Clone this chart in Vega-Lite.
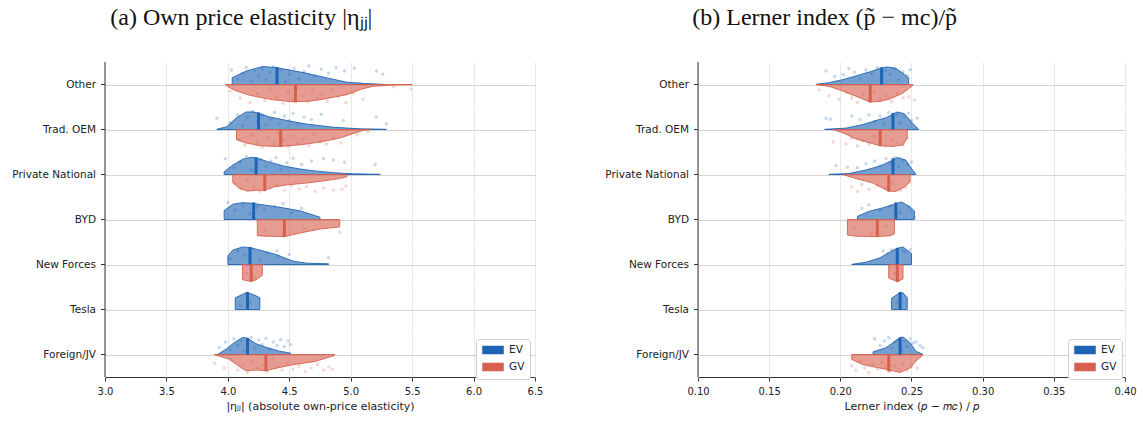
{
 "$schema": "https://vega.github.io/schema/vega-lite/v6.json",
 "background": "white",
 "padding": {"left": 12, "right": 3, "top": 5, "bottom": 5},
 "spacing": 62,
 "config": {"view": {"stroke": null}, "font": "DejaVu Sans"},
 "resolve": {"scale": {"fill": "independent", "stroke": "independent"}, "legend": {"fill": "independent", "stroke": "independent"}},
 "datasets": {
  "a": [
   {"cat":"Other","grp":"EV","kind":"v","val":4.035,"dens":0.15},{"cat":"Other","grp":"EV","kind":"v","val":4.15,"dens":0.30},{"cat":"Other","grp":"EV","kind":"v","val":4.285,"dens":0.40},{"cat":"Other","grp":"EV","kind":"v","val":4.393,"dens":0.375},{"cat":"Other","grp":"EV","kind":"v","val":4.506,"dens":0.32},{"cat":"Other","grp":"EV","kind":"v","val":4.64,"dens":0.25},{"cat":"Other","grp":"EV","kind":"v","val":4.80,"dens":0.15},{"cat":"Other","grp":"EV","kind":"v","val":4.97,"dens":0.05},{"cat":"Other","grp":"EV","kind":"v","val":5.13,"dens":0.02},{"cat":"Other","grp":"EV","kind":"v","val":5.26,"dens":0.004},
   {"cat":"Other","grp":"GV","kind":"v","val":3.98,"dens":-0.005},{"cat":"Other","grp":"GV","kind":"v","val":4.04,"dens":-0.11},{"cat":"Other","grp":"GV","kind":"v","val":4.10,"dens":-0.17},{"cat":"Other","grp":"GV","kind":"v","val":4.18,"dens":-0.24},{"cat":"Other","grp":"GV","kind":"v","val":4.27,"dens":-0.29},{"cat":"Other","grp":"GV","kind":"v","val":4.37,"dens":-0.34},{"cat":"Other","grp":"GV","kind":"v","val":4.51,"dens":-0.38},{"cat":"Other","grp":"GV","kind":"v","val":4.64,"dens":-0.375},{"cat":"Other","grp":"GV","kind":"v","val":4.72,"dens":-0.35},{"cat":"Other","grp":"GV","kind":"v","val":4.80,"dens":-0.315},{"cat":"Other","grp":"GV","kind":"v","val":4.88,"dens":-0.27},{"cat":"Other","grp":"GV","kind":"v","val":4.97,"dens":-0.225},{"cat":"Other","grp":"GV","kind":"v","val":5.08,"dens":-0.11},{"cat":"Other","grp":"GV","kind":"v","val":5.18,"dens":-0.04},{"cat":"Other","grp":"GV","kind":"v","val":5.35,"dens":-0.01},{"cat":"Other","grp":"GV","kind":"v","val":5.50,"dens":-0.004},
   {"cat":"Trad. OEM","grp":"EV","kind":"v","val":3.91,"dens":0.004},{"cat":"Trad. OEM","grp":"EV","kind":"v","val":3.99,"dens":0.06},{"cat":"Trad. OEM","grp":"EV","kind":"v","val":4.07,"dens":0.26},{"cat":"Trad. OEM","grp":"EV","kind":"v","val":4.15,"dens":0.39},{"cat":"Trad. OEM","grp":"EV","kind":"v","val":4.21,"dens":0.39},{"cat":"Trad. OEM","grp":"EV","kind":"v","val":4.25,"dens":0.36},{"cat":"Trad. OEM","grp":"EV","kind":"v","val":4.34,"dens":0.28},{"cat":"Trad. OEM","grp":"EV","kind":"v","val":4.48,"dens":0.20},{"cat":"Trad. OEM","grp":"EV","kind":"v","val":4.64,"dens":0.12},{"cat":"Trad. OEM","grp":"EV","kind":"v","val":4.86,"dens":0.05},{"cat":"Trad. OEM","grp":"EV","kind":"v","val":5.08,"dens":0.015},{"cat":"Trad. OEM","grp":"EV","kind":"v","val":5.29,"dens":0.004},
   {"cat":"Trad. OEM","grp":"GV","kind":"v","val":4.07,"dens":-0.225},{"cat":"Trad. OEM","grp":"GV","kind":"v","val":4.15,"dens":-0.30},{"cat":"Trad. OEM","grp":"GV","kind":"v","val":4.26,"dens":-0.36},{"cat":"Trad. OEM","grp":"GV","kind":"v","val":4.37,"dens":-0.375},{"cat":"Trad. OEM","grp":"GV","kind":"v","val":4.43,"dens":-0.375},{"cat":"Trad. OEM","grp":"GV","kind":"v","val":4.59,"dens":-0.34},{"cat":"Trad. OEM","grp":"GV","kind":"v","val":4.75,"dens":-0.28},{"cat":"Trad. OEM","grp":"GV","kind":"v","val":4.91,"dens":-0.19},{"cat":"Trad. OEM","grp":"GV","kind":"v","val":5.02,"dens":-0.09},{"cat":"Trad. OEM","grp":"GV","kind":"v","val":5.10,"dens":-0.02},{"cat":"Trad. OEM","grp":"GV","kind":"v","val":5.16,"dens":-0.004},
   {"cat":"Private National","grp":"EV","kind":"v","val":3.97,"dens":0.06},{"cat":"Private National","grp":"EV","kind":"v","val":4.04,"dens":0.21},{"cat":"Private National","grp":"EV","kind":"v","val":4.12,"dens":0.34},{"cat":"Private National","grp":"EV","kind":"v","val":4.19,"dens":0.38},{"cat":"Private National","grp":"EV","kind":"v","val":4.23,"dens":0.37},{"cat":"Private National","grp":"EV","kind":"v","val":4.32,"dens":0.29},{"cat":"Private National","grp":"EV","kind":"v","val":4.45,"dens":0.19},{"cat":"Private National","grp":"EV","kind":"v","val":4.59,"dens":0.12},{"cat":"Private National","grp":"EV","kind":"v","val":4.72,"dens":0.075},{"cat":"Private National","grp":"EV","kind":"v","val":4.86,"dens":0.04},{"cat":"Private National","grp":"EV","kind":"v","val":5.02,"dens":0.015},{"cat":"Private National","grp":"EV","kind":"v","val":5.24,"dens":0.004},
   {"cat":"Private National","grp":"GV","kind":"v","val":4.04,"dens":-0.18},{"cat":"Private National","grp":"GV","kind":"v","val":4.09,"dens":-0.30},{"cat":"Private National","grp":"GV","kind":"v","val":4.16,"dens":-0.37},{"cat":"Private National","grp":"GV","kind":"v","val":4.23,"dens":-0.35},{"cat":"Private National","grp":"GV","kind":"v","val":4.30,"dens":-0.35},{"cat":"Private National","grp":"GV","kind":"v","val":4.37,"dens":-0.28},{"cat":"Private National","grp":"GV","kind":"v","val":4.48,"dens":-0.23},{"cat":"Private National","grp":"GV","kind":"v","val":4.64,"dens":-0.19},{"cat":"Private National","grp":"GV","kind":"v","val":4.80,"dens":-0.135},{"cat":"Private National","grp":"GV","kind":"v","val":4.91,"dens":-0.09},{"cat":"Private National","grp":"GV","kind":"v","val":4.97,"dens":-0.05},
   {"cat":"BYD","grp":"EV","kind":"v","val":3.97,"dens":0.20},{"cat":"BYD","grp":"EV","kind":"v","val":4.04,"dens":0.34},{"cat":"BYD","grp":"EV","kind":"v","val":4.12,"dens":0.375},{"cat":"BYD","grp":"EV","kind":"v","val":4.20,"dens":0.36},{"cat":"BYD","grp":"EV","kind":"v","val":4.31,"dens":0.315},{"cat":"BYD","grp":"EV","kind":"v","val":4.45,"dens":0.26},{"cat":"BYD","grp":"EV","kind":"v","val":4.59,"dens":0.19},{"cat":"BYD","grp":"EV","kind":"v","val":4.75,"dens":0.05},
   {"cat":"BYD","grp":"GV","kind":"v","val":4.24,"dens":-0.36},{"cat":"BYD","grp":"GV","kind":"v","val":4.31,"dens":-0.37},{"cat":"BYD","grp":"GV","kind":"v","val":4.46,"dens":-0.38},{"cat":"BYD","grp":"GV","kind":"v","val":4.59,"dens":-0.30},{"cat":"BYD","grp":"GV","kind":"v","val":4.75,"dens":-0.21},{"cat":"BYD","grp":"GV","kind":"v","val":4.91,"dens":-0.165},
   {"cat":"New Forces","grp":"EV","kind":"v","val":4.00,"dens":0.19},{"cat":"New Forces","grp":"EV","kind":"v","val":4.04,"dens":0.32},{"cat":"New Forces","grp":"EV","kind":"v","val":4.12,"dens":0.39},{"cat":"New Forces","grp":"EV","kind":"v","val":4.18,"dens":0.375},{"cat":"New Forces","grp":"EV","kind":"v","val":4.29,"dens":0.30},{"cat":"New Forces","grp":"EV","kind":"v","val":4.39,"dens":0.225},{"cat":"New Forces","grp":"EV","kind":"v","val":4.53,"dens":0.075},{"cat":"New Forces","grp":"EV","kind":"v","val":4.64,"dens":0.03},{"cat":"New Forces","grp":"EV","kind":"v","val":4.82,"dens":0.015},
   {"cat":"New Forces","grp":"GV","kind":"v","val":4.12,"dens":-0.34},{"cat":"New Forces","grp":"GV","kind":"v","val":4.19,"dens":-0.375},{"cat":"New Forces","grp":"GV","kind":"v","val":4.23,"dens":-0.34},{"cat":"New Forces","grp":"GV","kind":"v","val":4.28,"dens":-0.24},
   {"cat":"Tesla","grp":"EV","kind":"v","val":4.06,"dens":0.26},{"cat":"Tesla","grp":"EV","kind":"v","val":4.15,"dens":0.375},{"cat":"Tesla","grp":"EV","kind":"v","val":4.21,"dens":0.33},{"cat":"Tesla","grp":"EV","kind":"v","val":4.26,"dens":0.26},
   {"cat":"Foreign/JV","grp":"EV","kind":"v","val":3.92,"dens":0.004},{"cat":"Foreign/JV","grp":"EV","kind":"v","val":3.99,"dens":0.13},{"cat":"Foreign/JV","grp":"EV","kind":"v","val":4.04,"dens":0.24},{"cat":"Foreign/JV","grp":"EV","kind":"v","val":4.12,"dens":0.38},{"cat":"Foreign/JV","grp":"EV","kind":"v","val":4.16,"dens":0.36},{"cat":"Foreign/JV","grp":"EV","kind":"v","val":4.23,"dens":0.24},{"cat":"Foreign/JV","grp":"EV","kind":"v","val":4.31,"dens":0.16},{"cat":"Foreign/JV","grp":"EV","kind":"v","val":4.42,"dens":0.075},{"cat":"Foreign/JV","grp":"EV","kind":"v","val":4.51,"dens":0.03},
   {"cat":"Foreign/JV","grp":"GV","kind":"v","val":3.89,"dens":-0.004},{"cat":"Foreign/JV","grp":"GV","kind":"v","val":4.01,"dens":-0.10},{"cat":"Foreign/JV","grp":"GV","kind":"v","val":4.10,"dens":-0.285},{"cat":"Foreign/JV","grp":"GV","kind":"v","val":4.15,"dens":-0.36},{"cat":"Foreign/JV","grp":"GV","kind":"v","val":4.23,"dens":-0.345},{"cat":"Foreign/JV","grp":"GV","kind":"v","val":4.31,"dens":-0.36},{"cat":"Foreign/JV","grp":"GV","kind":"v","val":4.40,"dens":-0.30},{"cat":"Foreign/JV","grp":"GV","kind":"v","val":4.53,"dens":-0.225},{"cat":"Foreign/JV","grp":"GV","kind":"v","val":4.70,"dens":-0.16},{"cat":"Foreign/JV","grp":"GV","kind":"v","val":4.80,"dens":-0.08},{"cat":"Foreign/JV","grp":"GV","kind":"v","val":4.87,"dens":-0.02},

   {"cat":"Other","grp":"EV","kind":"m","val":4.40,"dens":0.39},{"cat":"Other","grp":"GV","kind":"m","val":4.55,"dens":-0.40},
   {"cat":"Trad. OEM","grp":"EV","kind":"m","val":4.25,"dens":0.38},{"cat":"Trad. OEM","grp":"GV","kind":"m","val":4.43,"dens":-0.385},
   {"cat":"Private National","grp":"EV","kind":"m","val":4.23,"dens":0.38},{"cat":"Private National","grp":"GV","kind":"m","val":4.30,"dens":-0.37},
   {"cat":"BYD","grp":"EV","kind":"m","val":4.21,"dens":0.38},{"cat":"BYD","grp":"GV","kind":"m","val":4.46,"dens":-0.39},
   {"cat":"New Forces","grp":"EV","kind":"m","val":4.18,"dens":0.39},{"cat":"New Forces","grp":"GV","kind":"m","val":4.19,"dens":-0.38},
   {"cat":"Tesla","grp":"EV","kind":"m","val":4.16,"dens":0.39},
   {"cat":"Foreign/JV","grp":"EV","kind":"m","val":4.16,"dens":0.37},{"cat":"Foreign/JV","grp":"GV","kind":"m","val":4.31,"dens":-0.37},

   {"cat":"Other","grp":"EV","kind":"p","val":4.03,"dens":0.32},{"cat":"Other","grp":"EV","kind":"p","val":4.08,"dens":0.12},{"cat":"Other","grp":"EV","kind":"p","val":4.12,"dens":0.25},{"cat":"Other","grp":"EV","kind":"p","val":4.15,"dens":0.38},{"cat":"Other","grp":"EV","kind":"p","val":4.19,"dens":0.08},{"cat":"Other","grp":"EV","kind":"p","val":4.22,"dens":0.30},{"cat":"Other","grp":"EV","kind":"p","val":4.25,"dens":0.18},{"cat":"Other","grp":"EV","kind":"p","val":4.28,"dens":0.35},{"cat":"Other","grp":"EV","kind":"p","val":4.31,"dens":0.10},{"cat":"Other","grp":"EV","kind":"p","val":4.34,"dens":0.27},{"cat":"Other","grp":"EV","kind":"p","val":4.37,"dens":0.40},{"cat":"Other","grp":"EV","kind":"p","val":4.40,"dens":0.15},{"cat":"Other","grp":"EV","kind":"p","val":4.43,"dens":0.33},{"cat":"Other","grp":"EV","kind":"p","val":4.47,"dens":0.06},{"cat":"Other","grp":"EV","kind":"p","val":4.50,"dens":0.22},{"cat":"Other","grp":"EV","kind":"p","val":4.54,"dens":0.36},{"cat":"Other","grp":"EV","kind":"p","val":4.58,"dens":0.13},{"cat":"Other","grp":"EV","kind":"p","val":4.62,"dens":0.29},{"cat":"Other","grp":"EV","kind":"p","val":4.66,"dens":0.41},{"cat":"Other","grp":"EV","kind":"p","val":4.71,"dens":0.19},{"cat":"Other","grp":"EV","kind":"p","val":4.76,"dens":0.34},{"cat":"Other","grp":"EV","kind":"p","val":4.82,"dens":0.25},{"cat":"Other","grp":"EV","kind":"p","val":4.88,"dens":0.38},{"cat":"Other","grp":"EV","kind":"p","val":4.95,"dens":0.30},{"cat":"Other","grp":"EV","kind":"p","val":5.03,"dens":0.36},{"cat":"Other","grp":"EV","kind":"p","val":5.21,"dens":0.30},{"cat":"Other","grp":"EV","kind":"p","val":5.26,"dens":0.23},
   {"cat":"Other","grp":"GV","kind":"p","val":4.02,"dens":-0.15},{"cat":"Other","grp":"GV","kind":"p","val":4.10,"dens":-0.30},{"cat":"Other","grp":"GV","kind":"p","val":4.18,"dens":-0.40},{"cat":"Other","grp":"GV","kind":"p","val":4.24,"dens":-0.20},{"cat":"Other","grp":"GV","kind":"p","val":4.30,"dens":-0.35},{"cat":"Other","grp":"GV","kind":"p","val":4.35,"dens":-0.10},{"cat":"Other","grp":"GV","kind":"p","val":4.40,"dens":-0.28},{"cat":"Other","grp":"GV","kind":"p","val":4.45,"dens":-0.42},{"cat":"Other","grp":"GV","kind":"p","val":4.49,"dens":-0.17},{"cat":"Other","grp":"GV","kind":"p","val":4.53,"dens":-0.33},{"cat":"Other","grp":"GV","kind":"p","val":4.57,"dens":-0.08},{"cat":"Other","grp":"GV","kind":"p","val":4.61,"dens":-0.25},{"cat":"Other","grp":"GV","kind":"p","val":4.65,"dens":-0.39},{"cat":"Other","grp":"GV","kind":"p","val":4.69,"dens":-0.14},{"cat":"Other","grp":"GV","kind":"p","val":4.73,"dens":-0.31},{"cat":"Other","grp":"GV","kind":"p","val":4.77,"dens":-0.22},{"cat":"Other","grp":"GV","kind":"p","val":4.81,"dens":-0.37},{"cat":"Other","grp":"GV","kind":"p","val":4.85,"dens":-0.12},{"cat":"Other","grp":"GV","kind":"p","val":4.90,"dens":-0.27},{"cat":"Other","grp":"GV","kind":"p","val":4.96,"dens":-0.40},{"cat":"Other","grp":"GV","kind":"p","val":5.02,"dens":-0.20},{"cat":"Other","grp":"GV","kind":"p","val":5.10,"dens":-0.33},{"cat":"Other","grp":"GV","kind":"p","val":5.35,"dens":-0.05},{"cat":"Other","grp":"GV","kind":"p","val":5.49,"dens":-0.10},
   {"cat":"Trad. OEM","grp":"EV","kind":"p","val":3.91,"dens":0.25},{"cat":"Trad. OEM","grp":"EV","kind":"p","val":4.02,"dens":0.15},{"cat":"Trad. OEM","grp":"EV","kind":"p","val":4.08,"dens":0.33},{"cat":"Trad. OEM","grp":"EV","kind":"p","val":4.12,"dens":0.08},{"cat":"Trad. OEM","grp":"EV","kind":"p","val":4.16,"dens":0.28},{"cat":"Trad. OEM","grp":"EV","kind":"p","val":4.20,"dens":0.40},{"cat":"Trad. OEM","grp":"EV","kind":"p","val":4.24,"dens":0.18},{"cat":"Trad. OEM","grp":"EV","kind":"p","val":4.28,"dens":0.32},{"cat":"Trad. OEM","grp":"EV","kind":"p","val":4.31,"dens":0.10},{"cat":"Trad. OEM","grp":"EV","kind":"p","val":4.35,"dens":0.24},{"cat":"Trad. OEM","grp":"EV","kind":"p","val":4.38,"dens":0.38},{"cat":"Trad. OEM","grp":"EV","kind":"p","val":4.42,"dens":0.14},{"cat":"Trad. OEM","grp":"EV","kind":"p","val":4.46,"dens":0.30},{"cat":"Trad. OEM","grp":"EV","kind":"p","val":4.50,"dens":0.20},{"cat":"Trad. OEM","grp":"EV","kind":"p","val":4.53,"dens":0.36},{"cat":"Trad. OEM","grp":"EV","kind":"p","val":4.57,"dens":0.11},{"cat":"Trad. OEM","grp":"EV","kind":"p","val":4.62,"dens":0.27},{"cat":"Trad. OEM","grp":"EV","kind":"p","val":4.68,"dens":0.22},{"cat":"Trad. OEM","grp":"EV","kind":"p","val":4.76,"dens":0.34},{"cat":"Trad. OEM","grp":"EV","kind":"p","val":4.94,"dens":0.20},{"cat":"Trad. OEM","grp":"EV","kind":"p","val":5.21,"dens":0.28},{"cat":"Trad. OEM","grp":"EV","kind":"p","val":5.29,"dens":0.13},
   {"cat":"Trad. OEM","grp":"GV","kind":"p","val":4.09,"dens":-0.22},{"cat":"Trad. OEM","grp":"GV","kind":"p","val":4.14,"dens":-0.35},{"cat":"Trad. OEM","grp":"GV","kind":"p","val":4.19,"dens":-0.12},{"cat":"Trad. OEM","grp":"GV","kind":"p","val":4.24,"dens":-0.29},{"cat":"Trad. OEM","grp":"GV","kind":"p","val":4.28,"dens":-0.40},{"cat":"Trad. OEM","grp":"GV","kind":"p","val":4.33,"dens":-0.18},{"cat":"Trad. OEM","grp":"GV","kind":"p","val":4.37,"dens":-0.33},{"cat":"Trad. OEM","grp":"GV","kind":"p","val":4.41,"dens":-0.08},{"cat":"Trad. OEM","grp":"GV","kind":"p","val":4.45,"dens":-0.25},{"cat":"Trad. OEM","grp":"GV","kind":"p","val":4.49,"dens":-0.38},{"cat":"Trad. OEM","grp":"GV","kind":"p","val":4.53,"dens":-0.15},{"cat":"Trad. OEM","grp":"GV","kind":"p","val":4.57,"dens":-0.30},{"cat":"Trad. OEM","grp":"GV","kind":"p","val":4.61,"dens":-0.21},{"cat":"Trad. OEM","grp":"GV","kind":"p","val":4.66,"dens":-0.36},{"cat":"Trad. OEM","grp":"GV","kind":"p","val":4.70,"dens":-0.11},{"cat":"Trad. OEM","grp":"GV","kind":"p","val":4.75,"dens":-0.27},{"cat":"Trad. OEM","grp":"GV","kind":"p","val":4.80,"dens":-0.33},{"cat":"Trad. OEM","grp":"GV","kind":"p","val":4.86,"dens":-0.19},{"cat":"Trad. OEM","grp":"GV","kind":"p","val":4.92,"dens":-0.30},{"cat":"Trad. OEM","grp":"GV","kind":"p","val":5.05,"dens":-0.12},{"cat":"Trad. OEM","grp":"GV","kind":"p","val":5.14,"dens":-0.05},
   {"cat":"Private National","grp":"EV","kind":"p","val":3.98,"dens":0.35},{"cat":"Private National","grp":"EV","kind":"p","val":4.05,"dens":0.15},{"cat":"Private National","grp":"EV","kind":"p","val":4.10,"dens":0.28},{"cat":"Private National","grp":"EV","kind":"p","val":4.15,"dens":0.40},{"cat":"Private National","grp":"EV","kind":"p","val":4.19,"dens":0.10},{"cat":"Private National","grp":"EV","kind":"p","val":4.23,"dens":0.24},{"cat":"Private National","grp":"EV","kind":"p","val":4.27,"dens":0.34},{"cat":"Private National","grp":"EV","kind":"p","val":4.31,"dens":0.18},{"cat":"Private National","grp":"EV","kind":"p","val":4.35,"dens":0.30},{"cat":"Private National","grp":"EV","kind":"p","val":4.39,"dens":0.38},{"cat":"Private National","grp":"EV","kind":"p","val":4.43,"dens":0.12},{"cat":"Private National","grp":"EV","kind":"p","val":4.48,"dens":0.26},{"cat":"Private National","grp":"EV","kind":"p","val":4.53,"dens":0.36},{"cat":"Private National","grp":"EV","kind":"p","val":4.60,"dens":0.22},{"cat":"Private National","grp":"EV","kind":"p","val":4.68,"dens":0.30},{"cat":"Private National","grp":"EV","kind":"p","val":4.78,"dens":0.35},{"cat":"Private National","grp":"EV","kind":"p","val":4.86,"dens":0.32},{"cat":"Private National","grp":"EV","kind":"p","val":4.95,"dens":0.27},{"cat":"Private National","grp":"EV","kind":"p","val":5.20,"dens":0.22},
   {"cat":"Private National","grp":"GV","kind":"p","val":4.06,"dens":-0.20},{"cat":"Private National","grp":"GV","kind":"p","val":4.11,"dens":-0.33},{"cat":"Private National","grp":"GV","kind":"p","val":4.16,"dens":-0.12},{"cat":"Private National","grp":"GV","kind":"p","val":4.21,"dens":-0.28},{"cat":"Private National","grp":"GV","kind":"p","val":4.26,"dens":-0.38},{"cat":"Private National","grp":"GV","kind":"p","val":4.30,"dens":-0.16},{"cat":"Private National","grp":"GV","kind":"p","val":4.35,"dens":-0.30},{"cat":"Private National","grp":"GV","kind":"p","val":4.40,"dens":-0.22},{"cat":"Private National","grp":"GV","kind":"p","val":4.46,"dens":-0.35},{"cat":"Private National","grp":"GV","kind":"p","val":4.52,"dens":-0.25},{"cat":"Private National","grp":"GV","kind":"p","val":4.58,"dens":-0.32},{"cat":"Private National","grp":"GV","kind":"p","val":4.64,"dens":-0.27},{"cat":"Private National","grp":"GV","kind":"p","val":4.71,"dens":-0.38},{"cat":"Private National","grp":"GV","kind":"p","val":4.78,"dens":-0.30},{"cat":"Private National","grp":"GV","kind":"p","val":4.86,"dens":-0.35},{"cat":"Private National","grp":"GV","kind":"p","val":4.93,"dens":-0.33},{"cat":"Private National","grp":"GV","kind":"p","val":4.96,"dens":-0.25},
   {"cat":"BYD","grp":"EV","kind":"p","val":4.00,"dens":0.38},{"cat":"BYD","grp":"EV","kind":"p","val":4.06,"dens":0.20},{"cat":"BYD","grp":"EV","kind":"p","val":4.12,"dens":0.32},{"cat":"BYD","grp":"EV","kind":"p","val":4.18,"dens":0.12},{"cat":"BYD","grp":"EV","kind":"p","val":4.24,"dens":0.28},{"cat":"BYD","grp":"EV","kind":"p","val":4.30,"dens":0.22},{"cat":"BYD","grp":"EV","kind":"p","val":4.38,"dens":0.30},{"cat":"BYD","grp":"EV","kind":"p","val":4.45,"dens":0.35},{"cat":"BYD","grp":"EV","kind":"p","val":4.52,"dens":0.15},{"cat":"BYD","grp":"EV","kind":"p","val":4.60,"dens":0.25},
   {"cat":"BYD","grp":"GV","kind":"p","val":4.30,"dens":-0.25},{"cat":"BYD","grp":"GV","kind":"p","val":4.45,"dens":-0.30},{"cat":"BYD","grp":"GV","kind":"p","val":4.62,"dens":-0.20},{"cat":"BYD","grp":"GV","kind":"p","val":4.91,"dens":-0.28},
   {"cat":"New Forces","grp":"EV","kind":"p","val":4.02,"dens":0.12},{"cat":"New Forces","grp":"EV","kind":"p","val":4.08,"dens":0.30},{"cat":"New Forces","grp":"EV","kind":"p","val":4.14,"dens":0.20},{"cat":"New Forces","grp":"EV","kind":"p","val":4.20,"dens":0.35},{"cat":"New Forces","grp":"EV","kind":"p","val":4.26,"dens":0.10},{"cat":"New Forces","grp":"EV","kind":"p","val":4.32,"dens":0.25},{"cat":"New Forces","grp":"EV","kind":"p","val":4.40,"dens":0.30},{"cat":"New Forces","grp":"EV","kind":"p","val":4.41,"dens":0.18},{"cat":"New Forces","grp":"EV","kind":"p","val":4.50,"dens":0.22},{"cat":"New Forces","grp":"EV","kind":"p","val":4.82,"dens":0.15},
   {"cat":"New Forces","grp":"GV","kind":"p","val":4.15,"dens":-0.20},{"cat":"New Forces","grp":"GV","kind":"p","val":4.22,"dens":-0.30},
   {"cat":"Tesla","grp":"EV","kind":"p","val":4.10,"dens":0.10},{"cat":"Tesla","grp":"EV","kind":"p","val":4.18,"dens":0.15},
   {"cat":"Foreign/JV","grp":"EV","kind":"p","val":3.93,"dens":0.15},{"cat":"Foreign/JV","grp":"EV","kind":"p","val":3.98,"dens":0.28},{"cat":"Foreign/JV","grp":"EV","kind":"p","val":4.02,"dens":0.10},{"cat":"Foreign/JV","grp":"EV","kind":"p","val":4.05,"dens":0.35},{"cat":"Foreign/JV","grp":"EV","kind":"p","val":4.08,"dens":0.20},{"cat":"Foreign/JV","grp":"EV","kind":"p","val":4.11,"dens":0.30},{"cat":"Foreign/JV","grp":"EV","kind":"p","val":4.13,"dens":0.08},{"cat":"Foreign/JV","grp":"EV","kind":"p","val":4.16,"dens":0.25},{"cat":"Foreign/JV","grp":"EV","kind":"p","val":4.19,"dens":0.38},{"cat":"Foreign/JV","grp":"EV","kind":"p","val":4.22,"dens":0.14},{"cat":"Foreign/JV","grp":"EV","kind":"p","val":4.25,"dens":0.32},{"cat":"Foreign/JV","grp":"EV","kind":"p","val":4.28,"dens":0.22},{"cat":"Foreign/JV","grp":"EV","kind":"p","val":4.31,"dens":0.36},{"cat":"Foreign/JV","grp":"EV","kind":"p","val":4.34,"dens":0.12},{"cat":"Foreign/JV","grp":"EV","kind":"p","val":4.37,"dens":0.28},{"cat":"Foreign/JV","grp":"EV","kind":"p","val":4.40,"dens":0.20},{"cat":"Foreign/JV","grp":"EV","kind":"p","val":4.43,"dens":0.33},{"cat":"Foreign/JV","grp":"EV","kind":"p","val":4.46,"dens":0.17},{"cat":"Foreign/JV","grp":"EV","kind":"p","val":4.49,"dens":0.30},{"cat":"Foreign/JV","grp":"EV","kind":"p","val":4.51,"dens":0.22},
   {"cat":"Foreign/JV","grp":"GV","kind":"p","val":3.89,"dens":-0.20},{"cat":"Foreign/JV","grp":"GV","kind":"p","val":3.97,"dens":-0.30},{"cat":"Foreign/JV","grp":"GV","kind":"p","val":4.03,"dens":-0.12},{"cat":"Foreign/JV","grp":"GV","kind":"p","val":4.08,"dens":-0.35},{"cat":"Foreign/JV","grp":"GV","kind":"p","val":4.12,"dens":-0.22},{"cat":"Foreign/JV","grp":"GV","kind":"p","val":4.16,"dens":-0.40},{"cat":"Foreign/JV","grp":"GV","kind":"p","val":4.20,"dens":-0.15},{"cat":"Foreign/JV","grp":"GV","kind":"p","val":4.24,"dens":-0.30},{"cat":"Foreign/JV","grp":"GV","kind":"p","val":4.28,"dens":-0.25},{"cat":"Foreign/JV","grp":"GV","kind":"p","val":4.32,"dens":-0.38},{"cat":"Foreign/JV","grp":"GV","kind":"p","val":4.36,"dens":-0.10},{"cat":"Foreign/JV","grp":"GV","kind":"p","val":4.40,"dens":-0.28},{"cat":"Foreign/JV","grp":"GV","kind":"p","val":4.44,"dens":-0.35},{"cat":"Foreign/JV","grp":"GV","kind":"p","val":4.48,"dens":-0.20},{"cat":"Foreign/JV","grp":"GV","kind":"p","val":4.53,"dens":-0.32},{"cat":"Foreign/JV","grp":"GV","kind":"p","val":4.58,"dens":-0.26},{"cat":"Foreign/JV","grp":"GV","kind":"p","val":4.63,"dens":-0.38},{"cat":"Foreign/JV","grp":"GV","kind":"p","val":4.68,"dens":-0.30},{"cat":"Foreign/JV","grp":"GV","kind":"p","val":4.73,"dens":-0.22},{"cat":"Foreign/JV","grp":"GV","kind":"p","val":4.78,"dens":-0.35},{"cat":"Foreign/JV","grp":"GV","kind":"p","val":4.82,"dens":-0.28},{"cat":"Foreign/JV","grp":"GV","kind":"p","val":4.85,"dens":-0.32}
  ],
  "b": [
   {"cat":"Other","grp":"EV","kind":"v","val":0.183,"dens":0.004},{"cat":"Other","grp":"EV","kind":"v","val":0.192,"dens":0.04},{"cat":"Other","grp":"EV","kind":"v","val":0.202,"dens":0.11},{"cat":"Other","grp":"EV","kind":"v","val":0.211,"dens":0.19},{"cat":"Other","grp":"EV","kind":"v","val":0.221,"dens":0.285},{"cat":"Other","grp":"EV","kind":"v","val":0.229,"dens":0.37},{"cat":"Other","grp":"EV","kind":"v","val":0.233,"dens":0.39},{"cat":"Other","grp":"EV","kind":"v","val":0.239,"dens":0.36},{"cat":"Other","grp":"EV","kind":"v","val":0.245,"dens":0.225},{"cat":"Other","grp":"EV","kind":"v","val":0.248,"dens":0.15},
   {"cat":"Other","grp":"GV","kind":"v","val":0.183,"dens":-0.004},{"cat":"Other","grp":"GV","kind":"v","val":0.192,"dens":-0.04},{"cat":"Other","grp":"GV","kind":"v","val":0.202,"dens":-0.15},{"cat":"Other","grp":"GV","kind":"v","val":0.211,"dens":-0.26},{"cat":"Other","grp":"GV","kind":"v","val":0.221,"dens":-0.39},{"cat":"Other","grp":"GV","kind":"v","val":0.228,"dens":-0.375},{"cat":"Other","grp":"GV","kind":"v","val":0.235,"dens":-0.32},{"cat":"Other","grp":"GV","kind":"v","val":0.244,"dens":-0.19},{"cat":"Other","grp":"GV","kind":"v","val":0.251,"dens":-0.02},
   {"cat":"Trad. OEM","grp":"EV","kind":"v","val":0.189,"dens":0.004},{"cat":"Trad. OEM","grp":"EV","kind":"v","val":0.204,"dens":0.03},{"cat":"Trad. OEM","grp":"EV","kind":"v","val":0.216,"dens":0.11},{"cat":"Trad. OEM","grp":"EV","kind":"v","val":0.225,"dens":0.20},{"cat":"Trad. OEM","grp":"EV","kind":"v","val":0.232,"dens":0.26},{"cat":"Trad. OEM","grp":"EV","kind":"v","val":0.237,"dens":0.34},{"cat":"Trad. OEM","grp":"EV","kind":"v","val":0.240,"dens":0.39},{"cat":"Trad. OEM","grp":"EV","kind":"v","val":0.245,"dens":0.35},{"cat":"Trad. OEM","grp":"EV","kind":"v","val":0.250,"dens":0.165},{"cat":"Trad. OEM","grp":"EV","kind":"v","val":0.255,"dens":0.004},
   {"cat":"Trad. OEM","grp":"GV","kind":"v","val":0.195,"dens":-0.004},{"cat":"Trad. OEM","grp":"GV","kind":"v","val":0.202,"dens":-0.075},{"cat":"Trad. OEM","grp":"GV","kind":"v","val":0.211,"dens":-0.21},{"cat":"Trad. OEM","grp":"GV","kind":"v","val":0.221,"dens":-0.30},{"cat":"Trad. OEM","grp":"GV","kind":"v","val":0.228,"dens":-0.36},{"cat":"Trad. OEM","grp":"GV","kind":"v","val":0.237,"dens":-0.375},{"cat":"Trad. OEM","grp":"GV","kind":"v","val":0.244,"dens":-0.34},{"cat":"Trad. OEM","grp":"GV","kind":"v","val":0.247,"dens":-0.19},
   {"cat":"Private National","grp":"EV","kind":"v","val":0.192,"dens":0.004},{"cat":"Private National","grp":"EV","kind":"v","val":0.206,"dens":0.02},{"cat":"Private National","grp":"EV","kind":"v","val":0.218,"dens":0.10},{"cat":"Private National","grp":"EV","kind":"v","val":0.228,"dens":0.19},{"cat":"Private National","grp":"EV","kind":"v","val":0.237,"dens":0.32},{"cat":"Private National","grp":"EV","kind":"v","val":0.240,"dens":0.38},{"cat":"Private National","grp":"EV","kind":"v","val":0.246,"dens":0.32},{"cat":"Private National","grp":"EV","kind":"v","val":0.250,"dens":0.135},{"cat":"Private National","grp":"EV","kind":"v","val":0.253,"dens":0.004},
   {"cat":"Private National","grp":"GV","kind":"v","val":0.202,"dens":-0.004},{"cat":"Private National","grp":"GV","kind":"v","val":0.211,"dens":-0.09},{"cat":"Private National","grp":"GV","kind":"v","val":0.223,"dens":-0.19},{"cat":"Private National","grp":"GV","kind":"v","val":0.234,"dens":-0.37},{"cat":"Private National","grp":"GV","kind":"v","val":0.239,"dens":-0.375},{"cat":"Private National","grp":"GV","kind":"v","val":0.245,"dens":-0.28},{"cat":"Private National","grp":"GV","kind":"v","val":0.249,"dens":-0.165},
   {"cat":"BYD","grp":"EV","kind":"v","val":0.212,"dens":0.07},{"cat":"BYD","grp":"EV","kind":"v","val":0.220,"dens":0.18},{"cat":"BYD","grp":"EV","kind":"v","val":0.230,"dens":0.26},{"cat":"BYD","grp":"EV","kind":"v","val":0.239,"dens":0.35},{"cat":"BYD","grp":"EV","kind":"v","val":0.243,"dens":0.39},{"cat":"BYD","grp":"EV","kind":"v","val":0.249,"dens":0.28},{"cat":"BYD","grp":"EV","kind":"v","val":0.252,"dens":0.19},
   {"cat":"BYD","grp":"GV","kind":"v","val":0.205,"dens":-0.345},{"cat":"BYD","grp":"GV","kind":"v","val":0.211,"dens":-0.37},{"cat":"BYD","grp":"GV","kind":"v","val":0.226,"dens":-0.38},{"cat":"BYD","grp":"GV","kind":"v","val":0.235,"dens":-0.36},{"cat":"BYD","grp":"GV","kind":"v","val":0.238,"dens":-0.32},
   {"cat":"New Forces","grp":"EV","kind":"v","val":0.208,"dens":0.004},{"cat":"New Forces","grp":"EV","kind":"v","val":0.218,"dens":0.05},{"cat":"New Forces","grp":"EV","kind":"v","val":0.228,"dens":0.15},{"cat":"New Forces","grp":"EV","kind":"v","val":0.235,"dens":0.28},{"cat":"New Forces","grp":"EV","kind":"v","val":0.240,"dens":0.36},{"cat":"New Forces","grp":"EV","kind":"v","val":0.244,"dens":0.39},{"cat":"New Forces","grp":"EV","kind":"v","val":0.247,"dens":0.315},{"cat":"New Forces","grp":"EV","kind":"v","val":0.250,"dens":0.24},
   {"cat":"New Forces","grp":"GV","kind":"v","val":0.234,"dens":-0.30},{"cat":"New Forces","grp":"GV","kind":"v","val":0.240,"dens":-0.38},{"cat":"New Forces","grp":"GV","kind":"v","val":0.244,"dens":-0.32},
   {"cat":"Tesla","grp":"EV","kind":"v","val":0.236,"dens":0.25},{"cat":"Tesla","grp":"EV","kind":"v","val":0.242,"dens":0.375},{"cat":"Tesla","grp":"EV","kind":"v","val":0.244,"dens":0.37},{"cat":"Tesla","grp":"EV","kind":"v","val":0.247,"dens":0.26},
   {"cat":"Foreign/JV","grp":"EV","kind":"v","val":0.223,"dens":0.06},{"cat":"Foreign/JV","grp":"EV","kind":"v","val":0.232,"dens":0.15},{"cat":"Foreign/JV","grp":"EV","kind":"v","val":0.242,"dens":0.375},{"cat":"Foreign/JV","grp":"EV","kind":"v","val":0.244,"dens":0.39},{"cat":"Foreign/JV","grp":"EV","kind":"v","val":0.249,"dens":0.26},{"cat":"Foreign/JV","grp":"EV","kind":"v","val":0.253,"dens":0.075},{"cat":"Foreign/JV","grp":"EV","kind":"v","val":0.258,"dens":0.004},
   {"cat":"Foreign/JV","grp":"GV","kind":"v","val":0.208,"dens":-0.11},{"cat":"Foreign/JV","grp":"GV","kind":"v","val":0.216,"dens":-0.225},{"cat":"Foreign/JV","grp":"GV","kind":"v","val":0.225,"dens":-0.285},{"cat":"Foreign/JV","grp":"GV","kind":"v","val":0.234,"dens":-0.34},{"cat":"Foreign/JV","grp":"GV","kind":"v","val":0.242,"dens":-0.40},{"cat":"Foreign/JV","grp":"GV","kind":"v","val":0.249,"dens":-0.30},{"cat":"Foreign/JV","grp":"GV","kind":"v","val":0.253,"dens":-0.15},{"cat":"Foreign/JV","grp":"GV","kind":"v","val":0.258,"dens":-0.015},

   {"cat":"Other","grp":"EV","kind":"m","val":0.229,"dens":0.38},{"cat":"Other","grp":"GV","kind":"m","val":0.221,"dens":-0.40},
   {"cat":"Trad. OEM","grp":"EV","kind":"m","val":0.237,"dens":0.37},{"cat":"Trad. OEM","grp":"GV","kind":"m","val":0.228,"dens":-0.37},
   {"cat":"Private National","grp":"EV","kind":"m","val":0.237,"dens":0.36},{"cat":"Private National","grp":"GV","kind":"m","val":0.234,"dens":-0.38},
   {"cat":"BYD","grp":"EV","kind":"m","val":0.239,"dens":0.38},{"cat":"BYD","grp":"GV","kind":"m","val":0.226,"dens":-0.39},
   {"cat":"New Forces","grp":"EV","kind":"m","val":0.240,"dens":0.37},{"cat":"New Forces","grp":"GV","kind":"m","val":0.240,"dens":-0.39},
   {"cat":"Tesla","grp":"EV","kind":"m","val":0.242,"dens":0.39},
   {"cat":"Foreign/JV","grp":"EV","kind":"m","val":0.242,"dens":0.38},{"cat":"Foreign/JV","grp":"GV","kind":"m","val":0.234,"dens":-0.38},

   {"cat":"Other","grp":"EV","kind":"p","val":0.190,"dens":0.30},{"cat":"Other","grp":"EV","kind":"p","val":0.196,"dens":0.18},{"cat":"Other","grp":"EV","kind":"p","val":0.202,"dens":0.22},{"cat":"Other","grp":"EV","kind":"p","val":0.206,"dens":0.35},{"cat":"Other","grp":"EV","kind":"p","val":0.210,"dens":0.28},{"cat":"Other","grp":"EV","kind":"p","val":0.214,"dens":0.12},{"cat":"Other","grp":"EV","kind":"p","val":0.218,"dens":0.32},{"cat":"Other","grp":"EV","kind":"p","val":0.222,"dens":0.25},{"cat":"Other","grp":"EV","kind":"p","val":0.226,"dens":0.38},{"cat":"Other","grp":"EV","kind":"p","val":0.229,"dens":0.15},{"cat":"Other","grp":"EV","kind":"p","val":0.232,"dens":0.30},{"cat":"Other","grp":"EV","kind":"p","val":0.235,"dens":0.22},{"cat":"Other","grp":"EV","kind":"p","val":0.238,"dens":0.35},{"cat":"Other","grp":"EV","kind":"p","val":0.241,"dens":0.10},{"cat":"Other","grp":"EV","kind":"p","val":0.244,"dens":0.28},{"cat":"Other","grp":"EV","kind":"p","val":0.247,"dens":0.20},{"cat":"Other","grp":"EV","kind":"p","val":0.249,"dens":0.33},
   {"cat":"Other","grp":"GV","kind":"p","val":0.185,"dens":-0.12},{"cat":"Other","grp":"GV","kind":"p","val":0.192,"dens":-0.25},{"cat":"Other","grp":"GV","kind":"p","val":0.199,"dens":-0.33},{"cat":"Other","grp":"GV","kind":"p","val":0.204,"dens":-0.18},{"cat":"Other","grp":"GV","kind":"p","val":0.208,"dens":-0.30},{"cat":"Other","grp":"GV","kind":"p","val":0.212,"dens":-0.40},{"cat":"Other","grp":"GV","kind":"p","val":0.216,"dens":-0.22},{"cat":"Other","grp":"GV","kind":"p","val":0.220,"dens":-0.35},{"cat":"Other","grp":"GV","kind":"p","val":0.224,"dens":-0.15},{"cat":"Other","grp":"GV","kind":"p","val":0.228,"dens":-0.32},{"cat":"Other","grp":"GV","kind":"p","val":0.232,"dens":-0.25},{"cat":"Other","grp":"GV","kind":"p","val":0.236,"dens":-0.38},{"cat":"Other","grp":"GV","kind":"p","val":0.240,"dens":-0.20},{"cat":"Other","grp":"GV","kind":"p","val":0.244,"dens":-0.30},{"cat":"Other","grp":"GV","kind":"p","val":0.248,"dens":-0.27},{"cat":"Other","grp":"GV","kind":"p","val":0.252,"dens":-0.35},
   {"cat":"Trad. OEM","grp":"EV","kind":"p","val":0.190,"dens":0.25},{"cat":"Trad. OEM","grp":"EV","kind":"p","val":0.193,"dens":0.23},{"cat":"Trad. OEM","grp":"EV","kind":"p","val":0.208,"dens":0.30},{"cat":"Trad. OEM","grp":"EV","kind":"p","val":0.214,"dens":0.22},{"cat":"Trad. OEM","grp":"EV","kind":"p","val":0.220,"dens":0.33},{"cat":"Trad. OEM","grp":"EV","kind":"p","val":0.224,"dens":0.18},{"cat":"Trad. OEM","grp":"EV","kind":"p","val":0.228,"dens":0.30},{"cat":"Trad. OEM","grp":"EV","kind":"p","val":0.231,"dens":0.12},{"cat":"Trad. OEM","grp":"EV","kind":"p","val":0.234,"dens":0.38},{"cat":"Trad. OEM","grp":"EV","kind":"p","val":0.237,"dens":0.25},{"cat":"Trad. OEM","grp":"EV","kind":"p","val":0.240,"dens":0.33},{"cat":"Trad. OEM","grp":"EV","kind":"p","val":0.242,"dens":0.15},{"cat":"Trad. OEM","grp":"EV","kind":"p","val":0.245,"dens":0.28},{"cat":"Trad. OEM","grp":"EV","kind":"p","val":0.248,"dens":0.36},{"cat":"Trad. OEM","grp":"EV","kind":"p","val":0.250,"dens":0.20},{"cat":"Trad. OEM","grp":"EV","kind":"p","val":0.254,"dens":0.25},
   {"cat":"Trad. OEM","grp":"GV","kind":"p","val":0.195,"dens":-0.28},{"cat":"Trad. OEM","grp":"GV","kind":"p","val":0.204,"dens":-0.32},{"cat":"Trad. OEM","grp":"GV","kind":"p","val":0.208,"dens":-0.20},{"cat":"Trad. OEM","grp":"GV","kind":"p","val":0.212,"dens":-0.36},{"cat":"Trad. OEM","grp":"GV","kind":"p","val":0.216,"dens":-0.25},{"cat":"Trad. OEM","grp":"GV","kind":"p","val":0.220,"dens":-0.33},{"cat":"Trad. OEM","grp":"GV","kind":"p","val":0.224,"dens":-0.15},{"cat":"Trad. OEM","grp":"GV","kind":"p","val":0.228,"dens":-0.30},{"cat":"Trad. OEM","grp":"GV","kind":"p","val":0.232,"dens":-0.38},{"cat":"Trad. OEM","grp":"GV","kind":"p","val":0.236,"dens":-0.22},{"cat":"Trad. OEM","grp":"GV","kind":"p","val":0.240,"dens":-0.30},{"cat":"Trad. OEM","grp":"GV","kind":"p","val":0.244,"dens":-0.35},{"cat":"Trad. OEM","grp":"GV","kind":"p","val":0.247,"dens":-0.20},
   {"cat":"Private National","grp":"EV","kind":"p","val":0.197,"dens":0.20},{"cat":"Private National","grp":"EV","kind":"p","val":0.205,"dens":0.16},{"cat":"Private National","grp":"EV","kind":"p","val":0.212,"dens":0.15},{"cat":"Private National","grp":"EV","kind":"p","val":0.218,"dens":0.24},{"cat":"Private National","grp":"EV","kind":"p","val":0.224,"dens":0.30},{"cat":"Private National","grp":"EV","kind":"p","val":0.228,"dens":0.20},{"cat":"Private National","grp":"EV","kind":"p","val":0.232,"dens":0.35},{"cat":"Private National","grp":"EV","kind":"p","val":0.235,"dens":0.25},{"cat":"Private National","grp":"EV","kind":"p","val":0.238,"dens":0.38},{"cat":"Private National","grp":"EV","kind":"p","val":0.241,"dens":0.18},{"cat":"Private National","grp":"EV","kind":"p","val":0.244,"dens":0.30},{"cat":"Private National","grp":"EV","kind":"p","val":0.247,"dens":0.22},{"cat":"Private National","grp":"EV","kind":"p","val":0.250,"dens":0.28},
   {"cat":"Private National","grp":"GV","kind":"p","val":0.208,"dens":-0.28},{"cat":"Private National","grp":"GV","kind":"p","val":0.212,"dens":-0.38},{"cat":"Private National","grp":"GV","kind":"p","val":0.215,"dens":-0.22},{"cat":"Private National","grp":"GV","kind":"p","val":0.220,"dens":-0.33},{"cat":"Private National","grp":"GV","kind":"p","val":0.226,"dens":-0.25},{"cat":"Private National","grp":"GV","kind":"p","val":0.232,"dens":-0.30},{"cat":"Private National","grp":"GV","kind":"p","val":0.237,"dens":-0.20},{"cat":"Private National","grp":"GV","kind":"p","val":0.242,"dens":-0.35},{"cat":"Private National","grp":"GV","kind":"p","val":0.246,"dens":-0.28},
   {"cat":"BYD","grp":"EV","kind":"p","val":0.215,"dens":0.25},{"cat":"BYD","grp":"EV","kind":"p","val":0.220,"dens":0.33},{"cat":"BYD","grp":"EV","kind":"p","val":0.228,"dens":0.20},{"cat":"BYD","grp":"EV","kind":"p","val":0.235,"dens":0.30},{"cat":"BYD","grp":"EV","kind":"p","val":0.242,"dens":0.15},{"cat":"BYD","grp":"EV","kind":"p","val":0.248,"dens":0.28},{"cat":"BYD","grp":"EV","kind":"p","val":0.252,"dens":0.05},
   {"cat":"BYD","grp":"GV","kind":"p","val":0.210,"dens":-0.20},{"cat":"BYD","grp":"GV","kind":"p","val":0.222,"dens":-0.30},{"cat":"BYD","grp":"GV","kind":"p","val":0.232,"dens":-0.15},
   {"cat":"New Forces","grp":"EV","kind":"p","val":0.230,"dens":0.30},{"cat":"New Forces","grp":"EV","kind":"p","val":0.233,"dens":0.25},{"cat":"New Forces","grp":"EV","kind":"p","val":0.236,"dens":0.33},{"cat":"New Forces","grp":"EV","kind":"p","val":0.240,"dens":0.20},{"cat":"New Forces","grp":"EV","kind":"p","val":0.244,"dens":0.30},{"cat":"New Forces","grp":"EV","kind":"p","val":0.246,"dens":0.28},{"cat":"New Forces","grp":"EV","kind":"p","val":0.249,"dens":0.33},
   {"cat":"New Forces","grp":"GV","kind":"p","val":0.238,"dens":-0.20},
   {"cat":"Tesla","grp":"EV","kind":"p","val":0.240,"dens":0.15},
   {"cat":"Foreign/JV","grp":"EV","kind":"p","val":0.224,"dens":0.35},{"cat":"Foreign/JV","grp":"EV","kind":"p","val":0.228,"dens":0.20},{"cat":"Foreign/JV","grp":"EV","kind":"p","val":0.231,"dens":0.30},{"cat":"Foreign/JV","grp":"EV","kind":"p","val":0.234,"dens":0.38},{"cat":"Foreign/JV","grp":"EV","kind":"p","val":0.236,"dens":0.15},{"cat":"Foreign/JV","grp":"EV","kind":"p","val":0.238,"dens":0.28},{"cat":"Foreign/JV","grp":"EV","kind":"p","val":0.240,"dens":0.33},{"cat":"Foreign/JV","grp":"EV","kind":"p","val":0.242,"dens":0.22},{"cat":"Foreign/JV","grp":"EV","kind":"p","val":0.243,"dens":0.10},{"cat":"Foreign/JV","grp":"EV","kind":"p","val":0.245,"dens":0.30},{"cat":"Foreign/JV","grp":"EV","kind":"p","val":0.247,"dens":0.18},{"cat":"Foreign/JV","grp":"EV","kind":"p","val":0.249,"dens":0.35},{"cat":"Foreign/JV","grp":"EV","kind":"p","val":0.251,"dens":0.25},{"cat":"Foreign/JV","grp":"EV","kind":"p","val":0.253,"dens":0.28},{"cat":"Foreign/JV","grp":"EV","kind":"p","val":0.256,"dens":0.20},{"cat":"Foreign/JV","grp":"EV","kind":"p","val":0.258,"dens":0.15},
   {"cat":"Foreign/JV","grp":"GV","kind":"p","val":0.208,"dens":-0.25},{"cat":"Foreign/JV","grp":"GV","kind":"p","val":0.211,"dens":-0.35},{"cat":"Foreign/JV","grp":"GV","kind":"p","val":0.214,"dens":-0.15},{"cat":"Foreign/JV","grp":"GV","kind":"p","val":0.217,"dens":-0.30},{"cat":"Foreign/JV","grp":"GV","kind":"p","val":0.220,"dens":-0.40},{"cat":"Foreign/JV","grp":"GV","kind":"p","val":0.223,"dens":-0.22},{"cat":"Foreign/JV","grp":"GV","kind":"p","val":0.226,"dens":-0.33},{"cat":"Foreign/JV","grp":"GV","kind":"p","val":0.229,"dens":-0.18},{"cat":"Foreign/JV","grp":"GV","kind":"p","val":0.232,"dens":-0.28},{"cat":"Foreign/JV","grp":"GV","kind":"p","val":0.235,"dens":-0.38},{"cat":"Foreign/JV","grp":"GV","kind":"p","val":0.238,"dens":-0.25},{"cat":"Foreign/JV","grp":"GV","kind":"p","val":0.241,"dens":-0.32},{"cat":"Foreign/JV","grp":"GV","kind":"p","val":0.244,"dens":-0.20},{"cat":"Foreign/JV","grp":"GV","kind":"p","val":0.247,"dens":-0.35},{"cat":"Foreign/JV","grp":"GV","kind":"p","val":0.250,"dens":-0.28},{"cat":"Foreign/JV","grp":"GV","kind":"p","val":0.254,"dens":-0.30}
  ]
 },
 "hconcat": [
  {
   "data": {"name": "a"},
   "title": {"text": "(a) Own price elasticity |ηⱼⱼ|", "font": "Liberation Serif", "fontSize": 24, "fontWeight": "normal", "color": "#111", "anchor": "start", "dx": 98, "offset": 32},
   "facet": {"row": {"field": "cat", "type": "nominal", "title": null,
     "sort": ["Other", "Trad. OEM", "Private National", "BYD", "New Forces", "Tesla", "Foreign/JV"],
     "header": {"labels": false, "title": null}}},
   "spacing": 0,
   "bounds": "flush",
   "spec": {
    "width": 430, "height": 45,
    "layer": [
     {"transform": [{"filter": "datum.kind === 'v'"}],
      "mark": {"type": "area", "fillOpacity": 0.62, "strokeWidth": 1, "strokeOpacity": 0.9},
      "encoding": {
       "x": {"field": "val", "type": "quantitative", "scale": {"domain": [3, 6.5], "nice": false, "zero": false},
             "axis": {"values": [3, 3.5, 4, 4.5, 5, 5.5, 6, 6.5], "format": ".1f", "labelFlush": false, "labelPadding": 5, "title": "|ηⱼⱼ| (absolute own-price elasticity)", "grid": true, "gridColor": "#e8e8e8", "domainColor": "#333", "tickColor": "#333", "tickSize": 4, "labelFontSize": 10, "labelColor": "#222", "titleFontSize": 11, "titleFontWeight": "normal", "titleColor": "#222", "titlePadding": 4}},
       "y": {"field": "dens", "type": "quantitative", "scale": {"domain": [-0.5, 0.5], "nice": false},
             "axis": {"values": [0], "labels": false, "ticks": false, "domain": false, "title": null, "grid": true, "gridColor": "#d4d4d4"}},
       "y2": {"datum": 0},
       "fill": {"field": "grp", "type": "nominal", "scale": {"domain": ["EV", "GV"], "range": ["#1f64b4", "#d6604d"]},
                "legend": {"title": null, "orient": "none", "legendX": 371, "legendY": 277, "symbolType": "M-2,-0.7H2V0.7H-2Z", "symbolSize": 100, "symbolOffset": 6, "labelOffset": 10, "symbolOpacity": 1, "labelFontSize": 10.5, "labelColor": "#222", "strokeColor": "#cccccc", "cornerRadius": 3, "padding": 5, "fillColor": "white", "rowPadding": 3}},
       "stroke": {"field": "grp", "type": "nominal", "scale": {"domain": ["EV", "GV"], "range": ["#1f64b4", "#d6604d"]}, "legend": null}
      }},
     {"transform": [{"filter": "datum.kind === 'p'"}],
      "mark": {"type": "circle", "size": 12, "opacity": 0.25},
      "encoding": {
       "x": {"field": "val", "type": "quantitative"},
       "y": {"field": "dens", "type": "quantitative"},
       "fill": {"field": "grp", "type": "nominal", "legend": null}
      }},
     {"transform": [{"filter": "datum.kind === 'm'"}],
      "mark": {"type": "rule", "strokeWidth": 3},
      "encoding": {
       "x": {"field": "val", "type": "quantitative"},
       "y": {"field": "dens", "type": "quantitative"},
       "y2": {"datum": 0},
       "stroke": {"field": "grp", "type": "nominal", "legend": null}
      }},
     {"transform": [{"filter": "datum.kind === 'm' && datum.grp === 'EV'"}],
      "mark": {"type": "rule", "color": "#333", "strokeWidth": 1},
      "encoding": {"x": {"datum": 3}, "y": {"datum": -0.5}, "y2": {"datum": 0.5}}},
     {"transform": [{"filter": "datum.kind === 'm' && datum.grp === 'EV'"}],
      "mark": {"type": "tick", "orient": "horizontal", "size": 4, "thickness": 1, "xOffset": -2, "color": "#333", "opacity": 1},
      "encoding": {"x": {"datum": 3}, "y": {"datum": 0}}},
     {"transform": [{"filter": "datum.kind === 'm' && datum.grp === 'EV'"}],
      "mark": {"type": "text", "align": "right", "baseline": "middle", "dx": -9, "font": "DejaVu Sans", "fontSize": 10.5, "color": "#222"},
      "encoding": {"x": {"datum": 3}, "y": {"datum": 0}, "text": {"field": "cat"}}}
    ]
   }
  },
  {
   "data": {"name": "b"},
   "title": {"text": "(b) Lerner index (p̃ − mc)/p̃", "font": "Liberation Serif", "fontSize": 24, "fontWeight": "normal", "color": "#111", "anchor": "start", "dx": 87, "offset": 32},
   "facet": {"row": {"field": "cat", "type": "nominal", "title": null,
     "sort": ["Other", "Trad. OEM", "Private National", "BYD", "New Forces", "Tesla", "Foreign/JV"],
     "header": {"labels": false, "title": null}}},
   "spacing": 0,
   "bounds": "flush",
   "spec": {
    "width": 427, "height": 45,
    "layer": [
     {"transform": [{"filter": "datum.kind === 'v'"}],
      "mark": {"type": "area", "fillOpacity": 0.62, "strokeWidth": 1, "strokeOpacity": 0.9},
      "encoding": {
       "x": {"field": "val", "type": "quantitative", "scale": {"domain": [0.1, 0.4], "nice": false, "zero": false},
             "axis": {"values": [0.1, 0.15, 0.2, 0.25, 0.3, 0.35, 0.4], "format": ".2f", "labelFlush": false, "labelPadding": 5, "title": "Lerner index (𝑝 − 𝑚𝑐) / 𝑝", "grid": true, "gridColor": "#e8e8e8", "domainColor": "#333", "tickColor": "#333", "tickSize": 4, "labelFontSize": 10, "labelColor": "#222", "titleFontSize": 11, "titleFontWeight": "normal", "titleColor": "#222", "titlePadding": 4}},
       "y": {"field": "dens", "type": "quantitative", "scale": {"domain": [-0.5, 0.5], "nice": false},
             "axis": {"values": [0], "labels": false, "ticks": false, "domain": false, "title": null, "grid": true, "gridColor": "#d4d4d4"}},
       "y2": {"datum": 0},
       "fill": {"field": "grp", "type": "nominal", "scale": {"domain": ["EV", "GV"], "range": ["#1f64b4", "#d6604d"]},
                "legend": {"title": null, "orient": "none", "legendX": 370, "legendY": 277, "symbolType": "M-2,-0.7H2V0.7H-2Z", "symbolSize": 100, "symbolOffset": 6, "labelOffset": 10, "symbolOpacity": 1, "labelFontSize": 10.5, "labelColor": "#222", "strokeColor": "#cccccc", "cornerRadius": 3, "padding": 5, "fillColor": "white", "rowPadding": 3}},
       "stroke": {"field": "grp", "type": "nominal", "scale": {"domain": ["EV", "GV"], "range": ["#1f64b4", "#d6604d"]}, "legend": null}
      }},
     {"transform": [{"filter": "datum.kind === 'p'"}],
      "mark": {"type": "circle", "size": 12, "opacity": 0.25},
      "encoding": {
       "x": {"field": "val", "type": "quantitative"},
       "y": {"field": "dens", "type": "quantitative"},
       "fill": {"field": "grp", "type": "nominal", "legend": null}
      }},
     {"transform": [{"filter": "datum.kind === 'm'"}],
      "mark": {"type": "rule", "strokeWidth": 3},
      "encoding": {
       "x": {"field": "val", "type": "quantitative"},
       "y": {"field": "dens", "type": "quantitative"},
       "y2": {"datum": 0},
       "stroke": {"field": "grp", "type": "nominal", "legend": null}
      }},
     {"transform": [{"filter": "datum.kind === 'm' && datum.grp === 'EV'"}],
      "mark": {"type": "rule", "color": "#333", "strokeWidth": 1},
      "encoding": {"x": {"datum": 0.1}, "y": {"datum": -0.5}, "y2": {"datum": 0.5}}},
     {"transform": [{"filter": "datum.kind === 'm' && datum.grp === 'EV'"}],
      "mark": {"type": "tick", "orient": "horizontal", "size": 4, "thickness": 1, "xOffset": -2, "color": "#333", "opacity": 1},
      "encoding": {"x": {"datum": 0.1}, "y": {"datum": 0}}},
     {"transform": [{"filter": "datum.kind === 'm' && datum.grp === 'EV'"}],
      "mark": {"type": "text", "align": "right", "baseline": "middle", "dx": -9, "font": "DejaVu Sans", "fontSize": 10.5, "color": "#222"},
      "encoding": {"x": {"datum": 0.1}, "y": {"datum": 0}, "text": {"field": "cat"}}}
    ]
   }
  }
 ]
}
